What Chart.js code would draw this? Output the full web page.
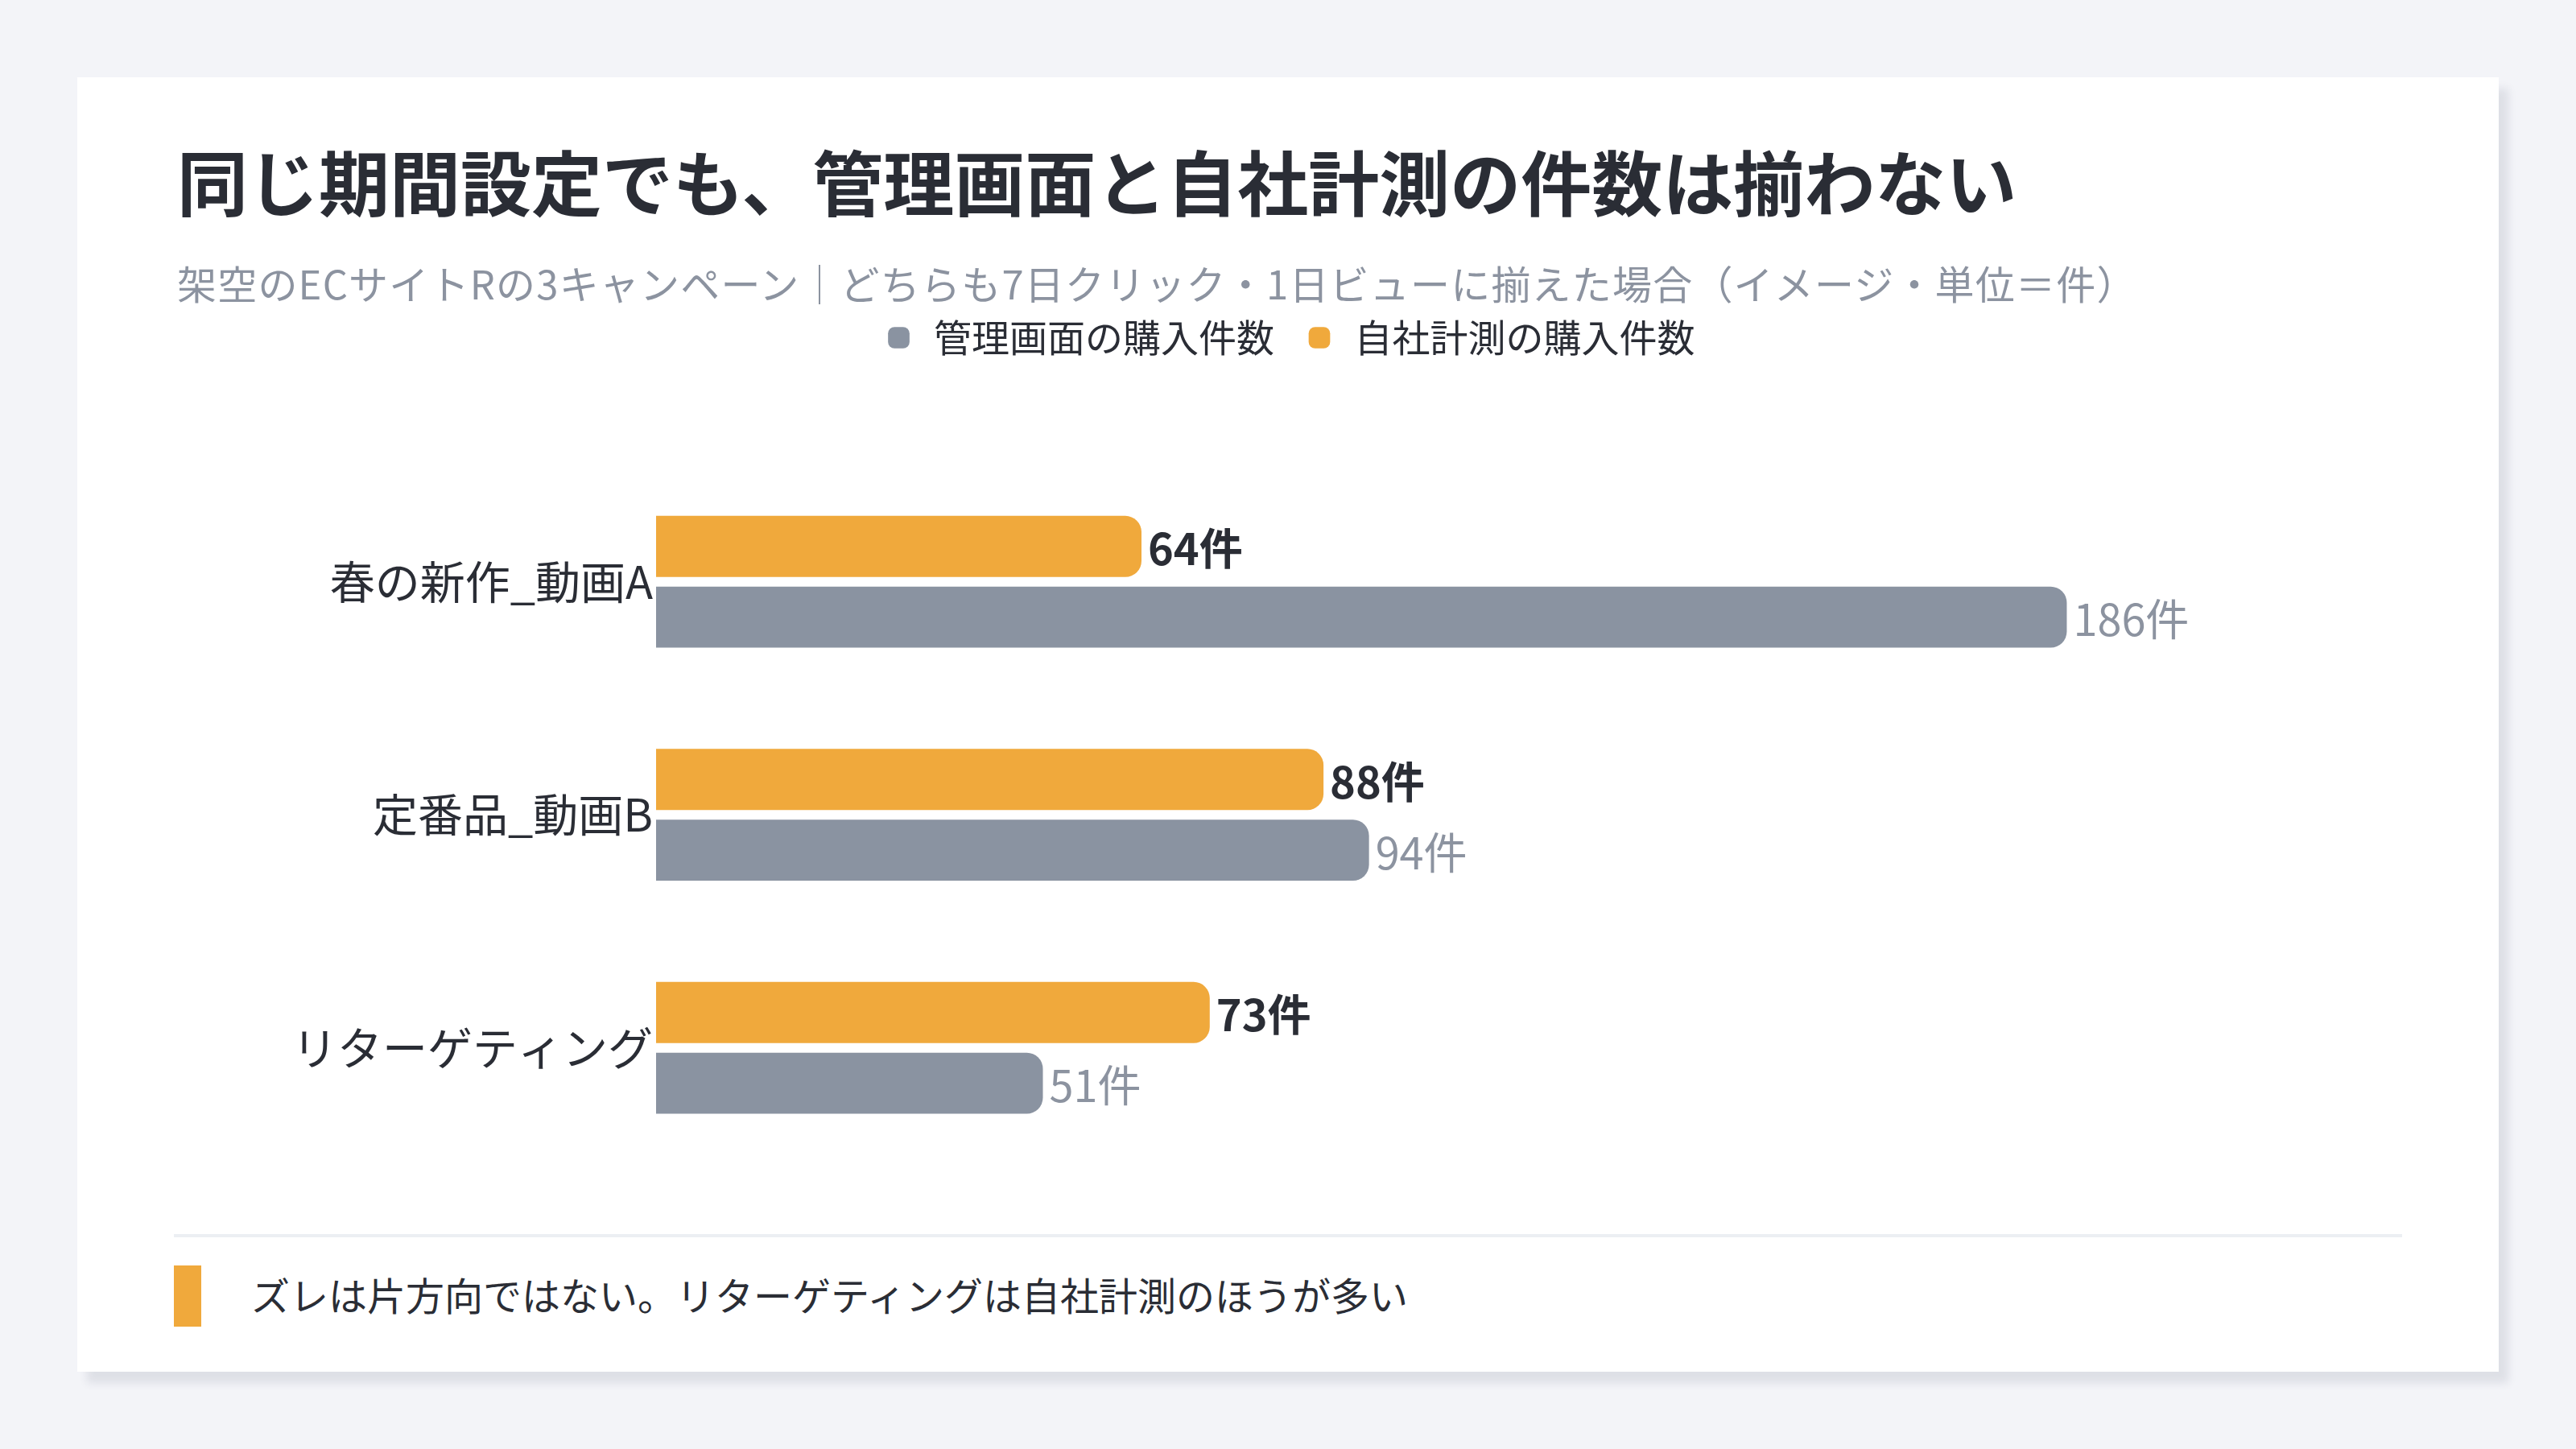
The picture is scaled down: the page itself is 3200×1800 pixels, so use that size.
<!DOCTYPE html>
<html lang="ja">
<head>
<meta charset="utf-8">
<script src="https://cdn.jsdelivr.net/npm/chart.js@4.4.1/dist/chart.umd.min.js"></script>
<style>
  html, body { margin: 0; padding: 0; }
  body {
    width: 3200px; height: 1800px; position: relative; overflow: hidden;
    background: #f3f4f8;
    font-family: "Noto Sans CJK JP", "Noto Sans", sans-serif;
  }
  .card {
    position: absolute; left: 96px; top: 96px; width: 3008px; height: 1608px;
    background: #fff;
    box-shadow: 12px 14px 10px rgba(40, 50, 80, 0.10);
  }
  .title {
    position: absolute; left: 124px; top: 74px;
    font-size: 88px; font-weight: 700; line-height: 1.2; color: #2a2d35;
    white-space: nowrap;
  }
  .subtitle {
    position: absolute; left: 124px; top: 226px;
    font-size: 49px; line-height: 1.2; color: #8c93a0; letter-spacing: 1.2px;
    white-space: nowrap;
  }
  #chart { position: absolute; left: 124px; top: 264px; }
  .rule {
    position: absolute; left: 120px; top: 1437px; width: 2768px; height: 4px;
    background: #eceff3;
  }
  .mark {
    position: absolute; left: 120px; top: 1476px; width: 34px; height: 76px;
    background: #f0a93c;
  }
  .note {
    position: absolute; left: 216px; top: 1483px;
    font-size: 48px; line-height: 1.2; color: #2a2d35;
    white-space: nowrap;
  }
</style>
</head>
<body>
<div class="card">
  <div class="title">同じ期間設定でも、管理画面と自社計測の件数は揃わない</div>
  <div class="subtitle">架空のECサイトRの3キャンペーン｜どちらも7日クリック・1日ビューに揃えた場合（イメージ・単位＝件）</div>
  <canvas id="chart" width="2762" height="1124"></canvas>
  <div class="rule"></div>
  <div class="mark"></div>
  <div class="note">ズレは片方向ではない。リターゲティングは自社計測のほうが多い</div>
</div>
<script>
const campaigns = ["春の新作_動画A", "定番品_動画B", "リターゲティング"];
const adminCounts = [186, 94, 51];
const ownCounts = [64, 88, 73];
const adminLabel = "管理画面の購入件数";
const ownLabel = "自社計測の購入件数";
const unit = "件";

const FONT = '"Noto Sans CJK JP", "Noto Sans", sans-serif';
const DARK = "#2a2d35";
const GRAY_TEXT = "#8c93a0";

// value labels at the end of each bar
const valueLabels = {
  id: "valueLabels",
  afterDatasetsDraw(chart) {
    const ctx = chart.ctx;
    chart.data.datasets.forEach((ds, i) => {
      const meta = chart.getDatasetMeta(i);
      const bold = i === 0;
      meta.data.forEach((bar, j) => {
        ctx.save();
        ctx.font = (bold ? "700 " : "400 ") + "54px " + FONT;
        ctx.fillStyle = bold ? DARK : GRAY_TEXT;
        ctx.textAlign = "left";
        ctx.textBaseline = "middle";
        ctx.fillText(ds.data[j] + unit, bar.x + 8, bar.y + 3);
        ctx.restore();
      });
    });
  },
};

const chart = new Chart(document.getElementById("chart").getContext("2d"), {
  type: "bar",
  data: {
    labels: campaigns,
    datasets: [
      {
        label: ownLabel,
        data: ownCounts,
        backgroundColor: "#f0a93c",
        borderRadius: 20,
        borderSkipped: "start",
        barPercentage: 0.864,
        categoryPercentage: 0.607,
      },
      {
        label: adminLabel,
        data: adminCounts,
        backgroundColor: "#8a93a1",
        borderRadius: 20,
        borderSkipped: "start",
        barPercentage: 0.864,
        categoryPercentage: 0.607,
      },
    ],
  },
  options: {
    indexAxis: "y",
    responsive: false,
    animation: false,
    devicePixelRatio: 1,
    layout: { padding: { left: 0, right: 0, top: 0, bottom: 3 } },
    plugins: {
      legend: {
        position: "top",
        labels: {
          font: { family: FONT, size: 47 },
          color: DARK,
          padding: 36,
          usePointStyle: true,
          pointStyle: "rectRounded",
          boxHeight: 22,
          boxWidth: 40,
          sort: (a, b) => b.datasetIndex - a.datasetIndex,
        },
      },
      tooltip: { enabled: false },
    },
    scales: {
      x: {
        position: "top",
        min: 0,
        max: 230,
        grid: { display: false },
        border: { display: false },
        ticks: { display: false },
        afterFit: (s) => { s.height = 125; },
      },
      y: {
        grid: { display: false, drawTicks: false },
        border: { display: false },
        ticks: {
          color: DARK,
          padding: 4,
          font: { family: FONT, size: 56 },
        },
        afterFit: (s) => { s.width = 595; },
      },
    },
  },
  plugins: [valueLabels],
});
</script>
</body>
</html>
